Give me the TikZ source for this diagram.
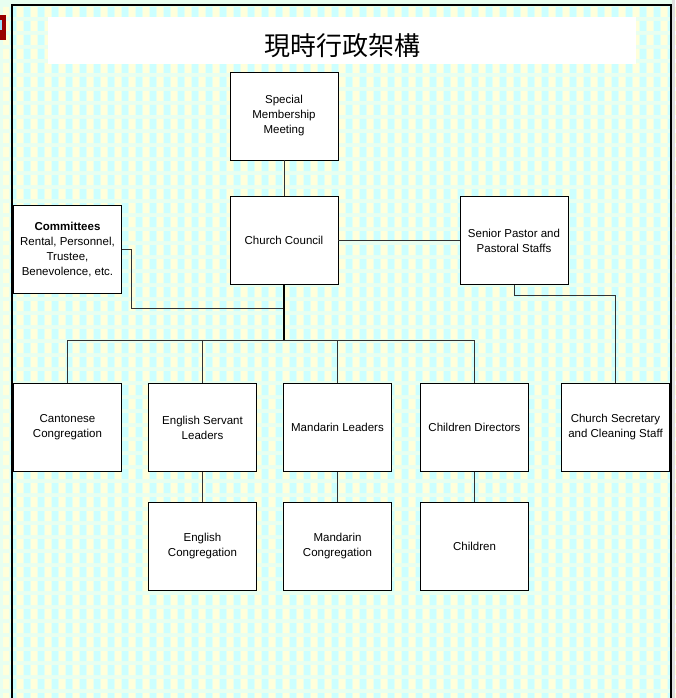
\documentclass[tikz,border=0pt]{standalone}
\usepackage{fontspec}
\setmainfont{Liberation Sans}
\newfontfamily\cjkfont{Noto Sans CJK TC}
\definecolor{bgmesh}{RGB}{232,255,240}
\definecolor{bgcyan}{RGB}{204,255,255}
\definecolor{bgyellow}{RGB}{255,255,219}
\definecolor{linegray}{RGB}{50,50,50}
\tikzset{
  box/.style={draw=black, fill=white, minimum width=108, minimum height=88, inner sep=0pt, align=center, font=\fontsize{11.5}{15}\selectfont},
  link/.style={draw=linegray, line width=1}
}

\begin{document}
\begin{tikzpicture}[x=1pt, y=-1pt]
\useasboundingbox (0,0) rectangle (675,698);
\fill[bgmesh] (0,0) rectangle (675,698);
\foreach \r in {0,...,49} {
 \fill[bgyellow] \foreach \c in {0,...,48} {({3+14*\c},{7+14*\r}) rectangle ++(6,10)};
 \fill[bgcyan] \foreach \c in {0,...,48} {({10+14*\c},{7+14*\r}) rectangle ++(6,10)};
}
\fill[gray!25] (672,0) rectangle (675,698);
\fill[red!60!black] (0,15) rectangle (6,40);
\fill[cyan!40] (0,20) rectangle (2,30);
\draw[line width=2] (12,698) -- (12,5) -- (671,5) -- (671,698);

\fill[white] (48,17) rectangle (636,64);
\node (title) at (342,46) {\cjkfont\fontsize{26}{30}\selectfont 現時行政架構};

\node[box] (smm) at (284,116) {Special\\Membership\\Meeting};
\node[box] (council) at (284,240.5) {Church Council};
\node[box] (pastor) at (514,240.5) {Senior Pastor and\\Pastoral Staffs};
\node[box] (committees) at (67.5,249.5) {\textbf{Committees}\\Rental, Personnel,\\Trustee,\\Benevolence, etc.};

\node[box] (canton) at (67.5,427.5) {Cantonese\\Congregation};
\node[box] (esl) at (202.5,427.5) {English Servant\\Leaders};
\node[box] (mleaders) at (337.5,427.5) {Mandarin Leaders};
\node[box] (cdirectors) at (474.5,427.5) {Children Directors};
\node[box] (secretary) at (615.5,427.5) {Church Secretary\\and Cleaning Staff};

\node[box] (econg) at (202.5,546.5) {English\\Congregation};
\node[box] (mcong) at (337.5,546.5) {Mandarin\\Congregation};
\node[box] (children) at (474.5,546.5) {Children};

\coordinate (cjoin) at (284,308);
\coordinate (bus) at (284,340);

\draw[link] (smm) -- (council);
\draw[link] (council) -- (pastor);
\draw[link] (committees.east) -- ++(10,0) |- (cjoin);
\draw[line width=2] (council.south) -- (bus);
\draw[link] (canton.north |- bus) -- (cdirectors.north |- bus);
\foreach \n in {canton,esl,mleaders,cdirectors} {
 \draw[link] (\n.north) -- (\n.north |- bus);
}
\draw[link] (pastor.south) -- ++(0,11) -| (secretary.north);
\draw[link] (esl) -- (econg);
\draw[link] (mleaders) -- (mcong);
\draw[link] (cdirectors) -- (children);
\end{tikzpicture}
\end{document}
